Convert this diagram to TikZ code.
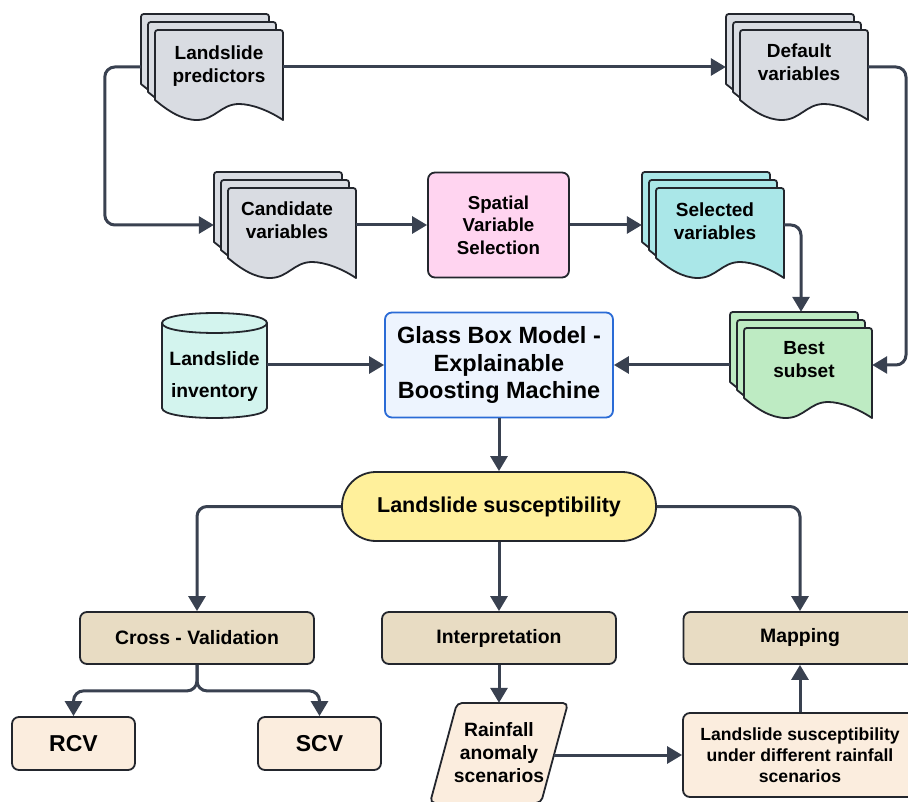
\documentclass[tikz,border=0pt]{standalone}
\usepackage{fontspec}
\setmainfont{Liberation Sans}
\usetikzlibrary{arrows.meta}
\definecolor{lc}{HTML}{394150}
\definecolor{bc}{HTML}{23262D}
\definecolor{docgray}{HTML}{D9DCE2}
\definecolor{pinkc}{HTML}{FFD4F0}
\definecolor{cyanc}{HTML}{AAE7E8}
\definecolor{greenc}{HTML}{BEEBC3}
\definecolor{cylc}{HTML}{D3F4EE}
\definecolor{glassc}{HTML}{EDF4FE}
\definecolor{glassb}{HTML}{2A6BD6}
\definecolor{yelc}{HTML}{FFF09B}
\definecolor{tanc}{HTML}{E8DCC3}
\definecolor{peachc}{HTML}{FBEDDE}
\newcommand{\ftn}{\fontsize{19}{23}\selectfont\bfseries}
\tikzset{
  conn/.style={draw=lc, line width=3pt},
  arr/.style={conn, -{Triangle[length=15pt,width=17pt]}},
  shapeline/.style={draw=bc, line width=1.8pt},
  box/.style={shapeline, rounded corners=7pt, align=center, inner sep=2pt, text=black},
  doctext/.style={align=center, font=\ftn, text=black},
}
\newcommand{\mdoc}[7]{%
  \foreach \k in {2,1,0}{%
    \begin{scope}[shift={({#2-7*\k},{#3-8*\k})}]
      \draw[shapeline, fill=#4, line join=round] (0,70) -- (0,6) .. controls (0,0) .. (6,0) -- (122,0) .. controls (128,0) .. (128,6) -- (128,90)
        .. controls (113,80) and (96,74) .. (84,74)
        .. controls (66,74) and (60,90) .. (42,90)
        .. controls (26,90) and (12,80) .. (0,70) -- cycle;
    \end{scope}
  }
  \node[minimum width=142pt, minimum height=106pt, inner sep=0pt] (#1) at ({#2+57},{#3+37}) {};
  \node[doctext] (#1-t) at ({#2+#6},{#3+#7}) {#5};
}
\begin{document}
\begin{tikzpicture}[x=1pt, y=-1pt]
\useasboundingbox (0,0) rectangle (908,802);
\clip (0,0) rectangle (908,802);
\fill[white] (0,0) rectangle (908,802);

% multi-documents
\mdoc{pred}{155}{30}{docgray}{Landslide\\predictors}{64}{36}
\mdoc{def}{740}{30}{docgray}{Default\\variables}{59}{32}
\mdoc{cand}{228}{188}{docgray}{Candidate\\variables}{59}{32}
\mdoc{sel}{656}{188}{cyanc}{Selected\\variables}{59}{33}
\mdoc{best}{744}{328}{greenc}{Best\\subset}{60}{32}

% spatial variable selection
\node[box, fill=pinkc, minimum width=141pt, minimum height=105pt, font=\fontsize{18.7}{22.5}\selectfont\bfseries] (svs) at (498.5,225) {Spatial\\Variable\\Selection};

% cylinder
\draw[shapeline, fill=cylc] (162,323) -- (162,408) .. controls (162,421.3) and (267,421.3) .. (267,408) -- (267,323) .. controls (267,309.7) and (162,309.7) .. (162,323) -- cycle;
\draw[shapeline] (162,323) .. controls (162,336.3) and (267,336.3) .. (267,323);
\node[minimum width=105pt, minimum height=105pt, inner sep=0pt] (inv) at (214.5,365) {};
\node[doctext, font=\fontsize{19.3}{23}\selectfont\bfseries] (inv-t) at (214.5,377) {Landslide\\[9pt]inventory};

% glass box
\node[box, draw=glassb, fill=glassc, minimum width=228pt, minimum height=105pt, font=\fontsize{23.5}{27.5}\selectfont\bfseries] (glass) at (499,365) {Glass Box Model -\\Explainable\\Boosting Machine};

% landslide susceptibility
\node[box, fill=yelc, rounded corners=34pt, minimum width=314pt, minimum height=69pt, font=\fontsize{21.5}{25}\selectfont\bfseries] (ls) at (499,506.5) {Landslide susceptibility};

% second-level boxes
\node[box, fill=tanc, minimum width=234pt, minimum height=52pt, font=\fontsize{19.4}{23}\selectfont\bfseries] (cv) at (197,638) {Cross - Validation};
\node[box, fill=tanc, minimum width=234pt, minimum height=52pt, font=\fontsize{19.4}{23}\selectfont\bfseries] (interp) at (499,638) {Interpretation};
\node[box, fill=tanc, minimum width=233pt, minimum height=52pt, font=\fontsize{19.4}{23}\selectfont\bfseries] (map) at (800,638) {Mapping};

\node[box, fill=peachc, minimum width=123pt, minimum height=53pt, font=\fontsize{23}{27}\selectfont\bfseries] (rcv) at (73.5,743.5) {RCV};
\node[box, fill=peachc, minimum width=123pt, minimum height=53pt, font=\fontsize{23}{27}\selectfont\bfseries] (scv) at (319.5,743.5) {SCV};

% rainfall parallelogram
\draw[shapeline, fill=peachc, rounded corners=5pt] (457,703) -- (568,703) -- (541,803) -- (430,803) -- cycle;
\node[minimum width=110pt, minimum height=100pt, inner sep=0pt, align=center, font=\fontsize{19.3}{23}\selectfont\bfseries] (rain) at (499,753) {Rainfall\\anomaly\\scenarios};

\node[box, fill=peachc, minimum width=234pt, minimum height=84pt, font=\fontsize{17.6}{21}\selectfont\bfseries] (lsr) at (800,755) {Landslide susceptibility\\under different rainfall\\scenarios};

% connectors
\draw[arr] (pred.east) -- (def.west);
\draw[arr, rounded corners=10pt] (pred.west) -- ++(-36,0) |- (cand.west);
\draw[arr] (cand.east) -- (svs.west);
\draw[arr] (svs.east) -- (sel.west);
\draw[arr, rounded corners=10pt] (sel.east) -| (best.north);
\draw[arr, rounded corners=10pt] (def.east) -- (906,67) |- (best.east);
\draw[arr] (best.west) -- (glass.east);
\draw[arr] (inv.east) -- (glass.west);
\draw[arr] (glass.south) -- (ls.north);
\draw[arr, rounded corners=10pt] (ls.west) -| (cv.north);
\draw[arr] (ls.south) -- (interp.north);
\draw[arr, rounded corners=10pt] (ls.east) -| (map.north);
\draw[arr, rounded corners=10pt] (cv.south) -- ++(0,26) -| (rcv.north);
\draw[arr, rounded corners=10pt] (cv.south) -- ++(0,26) -| (scv.north);
\draw[arr] (interp.south) -- (rain.north);
\draw[arr] ([yshift=-2pt]rain.east) -- (lsr.west);
\draw[arr] (lsr.north) -- (map.south);
\end{tikzpicture}
\end{document}
